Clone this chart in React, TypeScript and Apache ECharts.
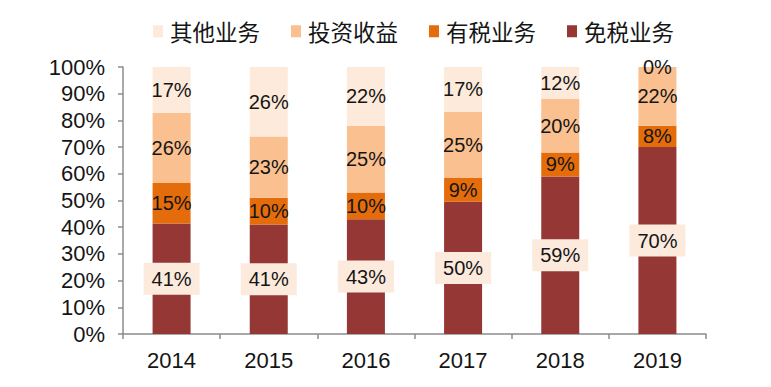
import React, { useEffect, useRef } from "react";
import * as echarts from "echarts";

const years = ["2014", "2015", "2016", "2017", "2018", "2019"];
const dutyFree = [41, 41, 43, 50, 59, 70]; // 免税业务
const taxed = [15, 10, 10, 9, 9, 8]; // 有税业务
const investment = [26, 23, 25, 25, 20, 22]; // 投资收益
const other = [17, 26, 22, 17, 12, 0]; // 其他业务
const yTicks = [0, 10, 20, 30, 40, 50, 60, 70, 80, 90, 100];

const NUM_FONT = "'Liberation Sans', Arial, sans-serif";
const CJK_FONT = "'Noto Sans CJK SC', sans-serif";

export default function App() {
  const ref = useRef<HTMLDivElement>(null);
  useEffect(() => {
    if (!ref.current) return;
    const chart = echarts.init(ref.current, null, { renderer: "svg" });
    const totals = years.map((_, i) => dutyFree[i] + taxed[i] + investment[i] + other[i]);
    const norm = (arr: number[]) => arr.map((v, i) => (v * 100) / totals[i]);
    const mk = (name: string, raw: number[], color: string, boxed: boolean) => ({
      name,
      type: "bar",
      stack: "total",
      barWidth: 38,
      data: norm(raw),
      itemStyle: { color },
      label: {
        show: true,
        position: "inside",
        formatter: (p: any) => raw[p.dataIndex] + "%",
        color: "#151515",
        fontSize: 20,
        fontFamily: NUM_FONT,
        ...(boxed
          ? { backgroundColor: "#FCEADC", padding: [6, 8, 6, 8] }
          : {}),
      },
    });
    chart.setOption({
      animation: false,
      legend: {
        data: ["其他业务", "投资收益", "有税业务", "免税业务"],
        left: 148,
        top: 15,
        itemWidth: 10,
        itemHeight: 12,
        itemGap: 31,
        icon: "rect",
        textStyle: {
          fontSize: 22.5,
          fontFamily: CJK_FONT,
          color: "#151515",
          padding: [0, 0, 0, 2],
        },
      },
      grid: { left: 123, right: 65, top: 67, bottom: 53 },
      xAxis: {
        type: "category",
        data: years,
        axisLine: { lineStyle: { color: "#8c8c8c", width: 1.5 } },
        axisTick: { show: true, length: 5, lineStyle: { color: "#8c8c8c", width: 1.5 } },
        axisLabel: { fontSize: 22, fontFamily: NUM_FONT, color: "#151515", margin: 15 },
      },
      yAxis: {
        type: "value",
        min: 0,
        max: 100,
        interval: 10,
        splitLine: { show: false },
        axisLine: { show: true, lineStyle: { color: "#8c8c8c", width: 1.5 } },
        axisTick: { show: true, length: 5, lineStyle: { color: "#8c8c8c", width: 1.5 } },
        axisLabel: {
          fontSize: 22,
          fontFamily: NUM_FONT,
          color: "#151515",
          margin: 18,
          formatter: (v: number) => (yTicks.includes(v) ? v + "%" : ""),
        },
      },
      series: [
        mk("免税业务", dutyFree, "#953735", true),
        mk("有税业务", taxed, "#E46C0A", false),
        mk("投资收益", investment, "#FAC090", false),
        mk("其他业务", other, "#FDEADA", false),
      ],
    });
    return () => chart.dispose();
  }, []);
  return <div ref={ref} style={{ width: 771, height: 387, position: "absolute", left: 0, top: 0, background: "#fff" }} />;
}
